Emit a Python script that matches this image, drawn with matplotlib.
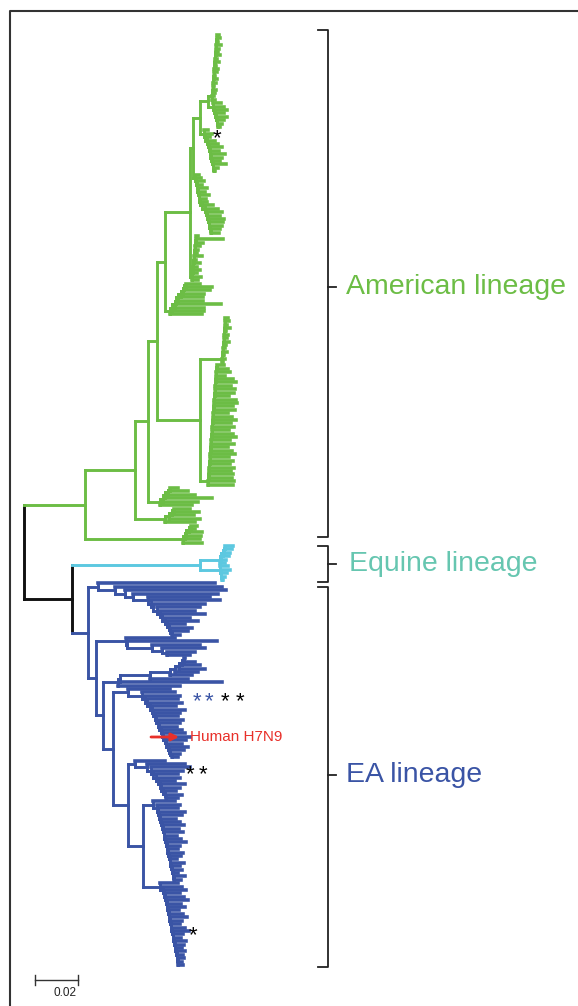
import matplotlib
matplotlib.use("Agg")
import matplotlib.pyplot as plt
from matplotlib.collections import LineCollection

# ---------------------------------------------------------------- data
# Branch lengths are given in units of 1/43 of the 0.02 scale bar.
SCALE_BAR_VALUE = 0.02
BRANCH_UNIT = 0.02 / 43          # substitutions per site per length unit

LINEAGES = ["American lineage", "Equine lineage", "EA lineage"]
LINEAGE_COLORS = ["#6cbd45", "#5cc8e0", "#3a54a5"]
LABEL_COLORS = ["#6cbd45", "#66c6b0", "#3a54a5"]
ROOT_COLOR = "#111111"

# Leaf clusters: root-to-tip depths (top -> bottom) and spine steps
TOPCOL_DEPTHS = [7, 8, 6, 9, 7, 6, 8, 5, 7, 4, 6, 5, 3, 5, 4, 2, 4, 3, 2, 3]
TOPCOL_STEPS = [0.2, 0.3, 0.2, 0.3, 0.2, 0.3, 0.4, 0.2, 0.3, 0.2, 0.3, 0.2, 0.4, 0.3, 0.2, 0.3, 0.2, 0.3]
C2_DEPTHS = [8, 11, 14, 11, 14, 11, 9, 7]
C2_STEPS = [1, 1, 0.5, 1, 0.5, 1]
C3_DEPTHS = [4, 8, 6, 11, 14, 18, 15, 21, 18, 16, 22, 14, 11]
C3_STEPS = [1, 2, 0.5, 1, 1, 0.5, 1, 0.5, 1, 0.5, 1]
C4_DEPTHS = [4, 6, 9, 7, 12, 10, 14, 11, 12, 18, 23, 27, 25, 29, 28, 27, 25, 24]
C4_STEPS = [0.5, 1, 0.5, 1, 0.5, 0.5, 1, 2, 3, 1, 1, 0.5, 1, 0.5, 1, 0.5]
C5_DEPTHS = [6, 31, 11, 8, 6, 5, 10, 4, 8, 5, 8, 5, 9, 6]
C5_STEPS = [0.3, 0.5, 0.2, 0.4, 0.3, 0.2, 0.4, 0.3, 0.2, 0.4, 0.3, 0.2]
UPPER_EDGES = [4, 5, 4, 2, 2]
UPPER_STEPS = [3, 7, 8]

C6_DEPTHS = [30, 42, 40, 34, 33, 33, 51, 34, 34, 32]
C6_STEPS = [2, 3, 1, 2, 3, 2, 1, 2]
B1_DEPTHS = [6, 7, 5, 8, 4, 6, 5, 7, 4, 3, 5, 2, 3, 1]
B1_STEPS = [0.3, 0.3, 0.2, 0.3, 0.4, 0.3, 0.2, 0.3, 0.3, 0.2, 0.3, 0.3]
B2_DEPTHS = [16, 20, 22, 17, 25, 28, 23, 27, 26, 21, 28, 29, 25, 27, 20, 24, 28, 23,
             26, 21, 25, 28, 22, 26, 20, 24, 27, 21, 25, 22, 26, 23, 25, 24, 26, 25]
B2_STEPS = [0.3, 0.2, 0.3, 0.2, 0.3, 0.2, 0.3, 0.2, 0.3, 0.2, 0.3, 0.2, 0.3, 0.2, 0.3, 0.2, 0.3,
            0.2, 0.3, 0.2, 0.3, 0.2, 0.3, 0.2, 0.3, 0.2, 0.3, 0.2, 0.3, 0.2, 0.3, 0.2, 0.3, 0.2]
BIG_EDGES = [22, 8]
MID_DEPTHS = [18, 28, 35, 52, 38, 32]
MID_STEPS = [3, 2, 3, 2]
LOW2_DEPTHS = [25, 34, 29, 35, 30]
LOW2_STEPS = [4, 3, 2]
LOWB_DEPTHS = [14, 12, 19, 18, 17, 19]
LOWB_STEPS = [2, 1, 3, 2]
AM_EDGES = [25, 5, 43, 12, 30, 98]
AM_STEPS = [50, 13, 9, 8]

E1_DEPTHS = [13, 12, 10, 9, 6, 5]
E1_STEPS = [1, 1.5, 1, 1]
E2_DEPTHS = [8, 10, 7, 5, 3]
E2_STEPS = [0.5, 0.5, 0.5]
EQ_EDGES = [20, 20]

TOPEA_DEPTHS = [117, 124, 128, 120, 112, 122, 107, 102, 97, 107, 92, 100, 87, 94, 90, 82]
TOPEA_STEPS = [17, 10, 8, 15, 3, 2, 4, 3, 2, 3, 2, 2, 1, 2]
EB_DEPTHS = [49, 91, 74, 79, 69, 64]
EB_STEPS = [1, 25, 10, 5]
EC_DEPTHS = [67, 77, 82, 87, 80, 74, 70, 104, 62]
EC_STEPS = [2, 30, 20, 5, 4, 3, 2]
ED_DEPTHS = [42, 47, 52, 50, 54, 48, 57, 52, 50, 55, 52, 49, 54, 57, 62, 58, 54, 60, 56, 52, 50]
ED_STEPS = [14, 3, 2, 3, 2, 1, 2, 1, 2, 1, 2, 1, 1, 2, 1, 2, 1, 1, 2]
EE_DEPTHS = [30, 50, 55, 48, 43, 45, 40, 50, 45, 41, 47, 43]
EE_STEPS = [12, 4, 2, 3, 2, 2, 1, 2, 2, 1]
EF_DEPTHS = [22, 27, 25, 32, 29, 23, 27, 31, 26, 30, 24, 28, 33, 27, 25, 30, 28, 24, 31, 27, 29, 25, 32, 28]
EF_STEPS = [4, 1, 1, 1, 1, 0.5, 1, 1, 0.5, 1, 0.5, 1, 0.5, 1, 0.5, 1, 0.5, 1, 0.5, 1, 0.5, 0.5]
EG_DEPTHS = [18, 22, 26, 20, 24, 28, 21, 25, 19, 23, 27, 22, 20, 25, 29, 23, 21, 26, 24, 22, 25, 23, 24, 22, 23]
EG_STEPS = [3, 1, 1, 0.5, 1, 0.5, 1, 0.5, 0.5, 1, 0.5, 0.5, 1, 0.5, 0.5, 1, 0.5, 0.5, 0.5, 1, 0.5, 0.5, 0.5]
EA_EDGES = [10, 30, 15, 15, 7, 10, 17]
EA_STEPS = [8, 7, 10, 15, 15]

ROOT_EDGES = [61, 48]        # root -> American, root -> (Equine + EA)
OTHER_EDGES = [128, 16]      # -> Equine, -> EA


# ---------------------------------------------------------------- tree building
def leaf():
    return {"kids": []}


def ladder(items, steps, up=False):
    seq = items[::-1] if up else list(items)
    n = len(seq)
    a, b = seq[n - 2], seq[n - 1]
    node = {"kids": [b, a] if up else [a, b]}
    for k in range(n - 3, -1, -1):
        sub = (node, steps[k])
        node = {"kids": [sub, seq[k]] if up else [seq[k], sub]}
    return node


def comb(depths, steps, up=False):
    n = len(depths)
    seq_d = depths[::-1] if up else list(depths)
    pos = [0.0]
    for s in steps:
        pos.append(pos[-1] + s)
    seq_items = [(leaf(), max(d - pos[min(j, n - 2)], 0.3)) for j, d in enumerate(seq_d)]
    items = seq_items[::-1] if up else seq_items
    return ladder(items, steps, up)


def paint(node, color):
    node["color"] = color
    for c, _ in node["kids"]:
        paint(c, color)


upper = ladder(list(zip([comb(TOPCOL_DEPTHS, TOPCOL_STEPS, True), comb(C2_DEPTHS, C2_STEPS),
                         comb(C3_DEPTHS, C3_STEPS), comb(C4_DEPTHS, C4_STEPS),
                         comb(C5_DEPTHS, C5_STEPS, True)], UPPER_EDGES)), UPPER_STEPS, up=True)
big = ladder(list(zip([comb(B1_DEPTHS, B1_STEPS, True), comb(B2_DEPTHS, B2_STEPS, True)], BIG_EDGES)), [])
american = ladder(list(zip([upper, comb(C6_DEPTHS, C6_STEPS, True), big,
                            comb(MID_DEPTHS, MID_STEPS, True),
                            comb(LOW2_DEPTHS, LOW2_STEPS, True),
                            comb(LOWB_DEPTHS, LOWB_STEPS, True)], AM_EDGES)), AM_STEPS, up=True)
equine = ladder(list(zip([comb(E1_DEPTHS, E1_STEPS, True), comb(E2_DEPTHS, E2_STEPS)], EQ_EDGES)), [])
ea = ladder(list(zip([comb(TOPEA_DEPTHS, TOPEA_STEPS), comb(EB_DEPTHS, EB_STEPS),
                      comb(EC_DEPTHS, EC_STEPS, True), comb(ED_DEPTHS, ED_STEPS),
                      comb(EE_DEPTHS, EE_STEPS), comb(EF_DEPTHS, EF_STEPS),
                      comb(EG_DEPTHS, EG_STEPS)], EA_EDGES)), EA_STEPS)
paint(american, LINEAGE_COLORS[0])
paint(equine, LINEAGE_COLORS[1])
paint(ea, LINEAGE_COLORS[2])
other = {"kids": [(equine, OTHER_EDGES[0]), (ea, OTHER_EDGES[1])], "color": ROOT_COLOR}
root = {"kids": [(american, ROOT_EDGES[0]), (other, ROOT_EDGES[1])], "color": ROOT_COLOR}

leaves = []


def place(node, x):
    node["x"] = x
    if not node["kids"]:
        node["y"] = float(len(leaves))
        leaves.append(node)
        return
    for c, l in node["kids"]:
        place(c, x + l)
    node["y"] = (node["kids"][0][0]["y"] + node["kids"][-1][0]["y"]) / 2.0


ROOT_X = 24.0
Y_TOP, Y_BOTTOM = 35.0, 965.0
place(root, ROOT_X)
n_leaves = len(leaves)
dy = (Y_BOTTOM - Y_TOP) / (n_leaves - 1)


def Y(v):
    return Y_TOP + v * dy


segs, cols, widths = [], [], []
LW_INNER, LW_TIP = 2.1, 2.6


def collect(node):
    if not node["kids"]:
        return
    ys = [c["y"] for c, _ in node["kids"]]
    segs.append([(node["x"], Y(min(ys))), (node["x"], Y(max(ys)))])
    cols.append(node["color"])
    widths.append(LW_INNER)
    for c, _ in node["kids"]:
        segs.append([(node["x"], Y(c["y"])), (c["x"], Y(c["y"]))])
        cols.append(c["color"])
        widths.append(LW_TIP if not c["kids"] else LW_INNER)
        collect(c)


collect(root)

# ---------------------------------------------------------------- figure
W, H = 578, 1006
fig = plt.figure(figsize=(W / 100, H / 100), dpi=100)
ax = fig.add_axes([0, 0, 1, 1])
ax.set_xlim(0, W)
ax.set_ylim(H, 0)
ax.axis("off")

ax.add_collection(LineCollection(segs, colors=cols, linewidths=widths, capstyle="projecting"))

# frame (left and top)
ax.plot([10, 10, W], [H, 11, 11], color="#333333", lw=1.5, solid_capstyle="butt")

# brackets
BR_X = 328


def bracket(top, bottom, mid):
    ax.plot([BR_X - 10, BR_X, BR_X, BR_X - 10], [top, top, bottom, bottom], color="#222222", lw=1.3)
    ax.plot([BR_X, BR_X + 8], [mid, mid], color="#222222", lw=1.3)


FONT = "Liberation Sans"
bracket(30, 537, 287)
bracket(546, 582, 564)
bracket(587, 967, 775)
ax.text(346, 287, LINEAGES[0], color=LABEL_COLORS[0], fontsize=20.5, family=FONT, va="center", ha="left")
ax.text(349, 564, LINEAGES[1], color=LABEL_COLORS[1], fontsize=20.5, family=FONT, va="center", ha="left")
ax.text(346, 775, LINEAGES[2], color=LABEL_COLORS[2], fontsize=20.5, family=FONT, va="center", ha="left")

# asterisks
STAR_SPECS = [(217, 132, "black"), (197, 695, LINEAGE_COLORS[2]), (209, 695, LINEAGE_COLORS[2]),
              (225, 695, "black"), (240, 695, "black"), (190, 768, "black"), (203, 768, "black"),
              (193, 929, "black")]
for sx, sy, sc in STAR_SPECS:
    ax.text(sx, sy + 12, "*", color=sc, fontsize=16, family=FONT, ha="center", va="baseline")

# Human H7N9 annotation
ax.annotate("", xy=(179, 737), xytext=(151, 737),
            arrowprops=dict(arrowstyle="-|>", color="#e8302a", lw=2, mutation_scale=11,
                            shrinkA=0, shrinkB=0))
ax.text(190, 737, "Human H7N9", color="#e8302a", fontsize=11, family=FONT, va="center", ha="left")

# scale bar
bar_len = SCALE_BAR_VALUE / BRANCH_UNIT
sb_x0, sb_y = 35, 980
ax.plot([sb_x0, sb_x0 + bar_len], [sb_y, sb_y], color="#333333", lw=1.0)
ax.plot([sb_x0, sb_x0], [sb_y - 5, sb_y + 5], color="#333333", lw=1.0)
ax.plot([sb_x0 + bar_len, sb_x0 + bar_len], [sb_y - 5, sb_y + 5], color="#333333", lw=1.0)
ax.text(sb_x0 + bar_len / 2 + 9, 993, f"{SCALE_BAR_VALUE:g}", fontsize=8.5, family=FONT,
        ha="center", va="center", color="#222222")

fig.savefig("out.png", dpi=100)
